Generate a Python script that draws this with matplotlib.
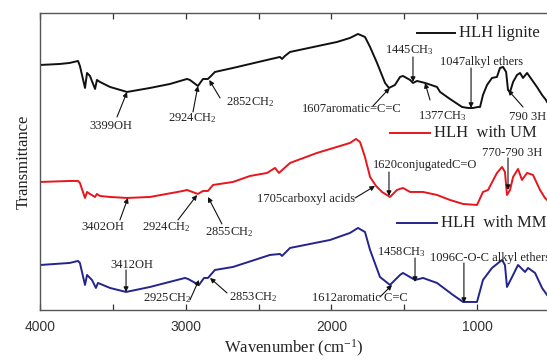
import matplotlib
matplotlib.use("Agg")
import matplotlib.pyplot as plt
from matplotlib.ticker import MultipleLocator, FuncFormatter

plt.rcParams["mathtext.fontset"] = "custom"
plt.rcParams["mathtext.rm"] = "Liberation Serif"
plt.rcParams["mathtext.it"] = "Liberation Serif:italic"
SERIF = "Liberation Serif"

# FTIR spectra: wavenumber (cm-1) and transmittance (a.u., stacked)
lignite_wn = [4000, 3866, 3800, 3742, 3729, 3694, 3680, 3660, 3625, 3612, 3591, 3522, 3405,
              3247, 3110, 2993, 2973, 2918, 2883, 2849, 2828, 2801, 2677, 2443, 2354, 2340,
              2320, 2285, 1962, 1873, 1818, 1770, 1735, 1687, 1632, 1605, 1564, 1529, 1509,
              1460, 1440, 1412, 1357, 1275, 1254, 1186, 1103, 1062, 1027, 993, 979, 959,
              931, 897, 863, 842, 821, 800, 787, 773, 752, 725, 704, 684, 656, 622, 588,
              553, 526, 519]
lignite_t = [245, 246, 247, 249, 244, 222, 237, 234, 221, 230, 228, 223, 218,
             222, 226, 231, 230, 224, 231, 231, 234, 238, 242, 250, 253, 251,
             254, 258, 268, 272, 276, 273, 263, 247, 227, 222, 225, 233, 234,
             230, 227, 229, 227, 223, 218, 211, 203, 202, 202, 203, 203, 215,
             225, 232, 233, 242, 243, 238, 220, 218, 228, 235, 237, 232, 237, 230, 223,
             215, 210, 208]

um_wn = [4000, 3800, 3742, 3729, 3694, 3680, 3660, 3625, 3612, 3591, 3522, 3405, 3247,
         3021, 2993, 2918, 2883, 2849, 2814, 2677, 2560, 2443, 2388, 2361, 2285, 2100,
         1873, 1832, 1804, 1770, 1735, 1694, 1653, 1598, 1550, 1509, 1460, 1371, 1275,
         1186, 1096, 1000, 959, 924, 863, 828, 808, 794, 773, 752, 718, 691, 656, 615,
         567, 533, 519]
um_t = [128, 129, 129, 127, 112, 118, 116, 113, 116, 114, 113, 112, 113,
        119, 120, 116, 119, 119, 125, 128, 134, 137, 142, 137, 147, 157,
        167, 171, 168, 153, 133, 124, 118, 113, 120, 122, 118, 118, 115,
        110, 106, 105, 118, 120, 137, 143, 138, 115, 120, 133, 141, 130, 137, 135,
        120, 112, 110]

mm_wn = [4000, 3800, 3742, 3729, 3694, 3680, 3646, 3619, 3605, 3522, 3412, 3247, 3007,
         2986, 2911, 2876, 2849, 2801, 2677, 2423, 2354, 2340, 2285, 2010, 1873, 1818,
         1770, 1735, 1667, 1598, 1529, 1509, 1426, 1371, 1275, 1165, 1096, 1048, 1000,
         959, 897, 828, 808, 794, 759, 718, 670, 649, 601, 553, 519]
mm_t = [45, 47, 49, 47, 25, 35, 30, 22, 27, 22, 18, 23, 32,
        31, 25, 32, 32, 40, 43, 55, 56, 54, 62, 70, 77, 82,
        78, 60, 33, 25, 35, 37, 30, 32, 27, 15, 8, 8, 8,
        30, 42, 50, 45, 23, 33, 45, 38, 42, 37, 22, 15]

series_names = ["HLH lignite", "HLH  with UM", "HLH  with MM"]
series_colors = ["#111111", "#e8161c", "#24248c"]

# band assignments: (label, text position, arrow tail, arrow head)
band_labels = [
    ("3399OH", (3515, 184), (3474, 193), (3405, 218)),
    ("2924C$\\mathrm{H}_2$", (2959, 192), (2952, 198), (2918, 224)),
    ("2852C$\\mathrm{H}_2$", (2560, 208), (2766, 212), (2840, 230)),
    ("1607aromatic=C=C", (1859, 201), (1715, 204), (1600, 222)),
    ("1445C$\\mathrm{H}_3$", (1467, 260), (1440, 253), (1440, 228)),
    ("1377C$\\mathrm{H}_3$", (1241, 194), (1323, 210), (1357, 227)),
    ("1047alkyl ethers", (966, 248), (1041, 242), (1041, 202)),
    ("790 3H", (656, 193), (684, 203), (787, 220)),
    ("3402OH", (3570, 83), (3454, 90), (3399, 112)),
    ("2924C$\\mathrm{H}_2$", (3137, 83), (3055, 90), (2924, 115)),
    ("2855C$\\mathrm{H}_2$", (2705, 78), (2753, 86), (2849, 113)),
    ("1705carboxyl acids", (2176, 111), (1838, 112), (1701, 124)),
    ("1620conjugatedC=O", (1359, 145), (1605, 138), (1605, 114)),
    ("770-790 3H", (760, 157), (787, 152), (787, 120)),
    ("3412OH", (3370, 45), (3412, 40), (3412, 18)),
    ("2925C$\\mathrm{H}_2$", (3131, 12), (2973, 10), (2911, 30)),
    ("2853C$\\mathrm{H}_2$", (2539, 13), (2718, 17), (2835, 32)),
    ("1458C$\\mathrm{H}_3$", (1522, 58), (1426, 52), (1426, 28)),
    ("1612aromatic C=C", (1804, 12), (1667, 13), (1584, 25)),
]
wide_label = ("1096C-O-C alkyl ethers", (1324, 52), (1090, 47), (1090, 7))

# in-plot legend entries: line start, line end, height
legend_spots = [(1412, 1151, 277), (1600, 1325, 177), (1552, 1277, 87)]

fig = plt.figure(figsize=(5.47, 3.60), dpi=100)
ax = fig.add_axes([0.074, 0.139, 0.926, 0.825])

for wn, t, c in zip([lignite_wn, um_wn, mm_wn], [lignite_t, um_t, mm_t], series_colors):
    ax.plot(wn, t, color=c, lw=1.4, solid_joinstyle="round")

arrow_kw = dict(arrowstyle="-|>", color="#111111", lw=0.8, mutation_scale=7,
                shrinkA=0, shrinkB=0)
for label, tpos, tail, head in band_labels:
    ax.text(tpos[0], tpos[1], label, ha="center", va="center", fontsize=9,
            family=SERIF, color="#222222")
    ax.annotate("", xy=head, xytext=tail, arrowprops=arrow_kw)

label, tpos, tail, head = wide_label
ax.text(tpos[0], tpos[1], label, ha="left", va="center", fontsize=9,
        family=SERIF, color="#222222", clip_on=False)
ax.annotate("", xy=head, xytext=tail, arrowprops=arrow_kw)

for name, color, (x0, x1, y) in zip(series_names, series_colors, legend_spots):
    ax.plot([x0, x1], [y, y], color=color, lw=1.4)
    ax.text(x1 - 30, y, name, ha="left", va="center", fontsize=12,
            family=SERIF, color="#222222")

ax.set_xlim(4000, 519)
ax.set_ylim(0, 297)
ax.set_yticks([])
ax.xaxis.set_major_locator(MultipleLocator(500))
ax.xaxis.set_major_formatter(FuncFormatter(lambda v, p: f"{int(v)}" if v % 1000 == 0 else ""))
ax.tick_params(axis="x", direction="in", length=4, width=0.9, top=True,
               labelsize=10, colors="#333333", pad=7)
for lab in ax.get_xticklabels():
    lab.set_family("Liberation Sans")
for side in ["left", "top", "bottom"]:
    ax.spines[side].set_color("#555555")
    ax.spines[side].set_linewidth(1.0)
ax.spines["right"].set_visible(False)

ax.set_xlabel("Wavenumber (cm$^{-1}$)", family=SERIF, fontsize=12, labelpad=3,
              color="#222222")
ax.set_ylabel("Transmittance", family=SERIF, fontsize=12, labelpad=6, color="#222222")

fig.savefig("out.png", dpi=100)
